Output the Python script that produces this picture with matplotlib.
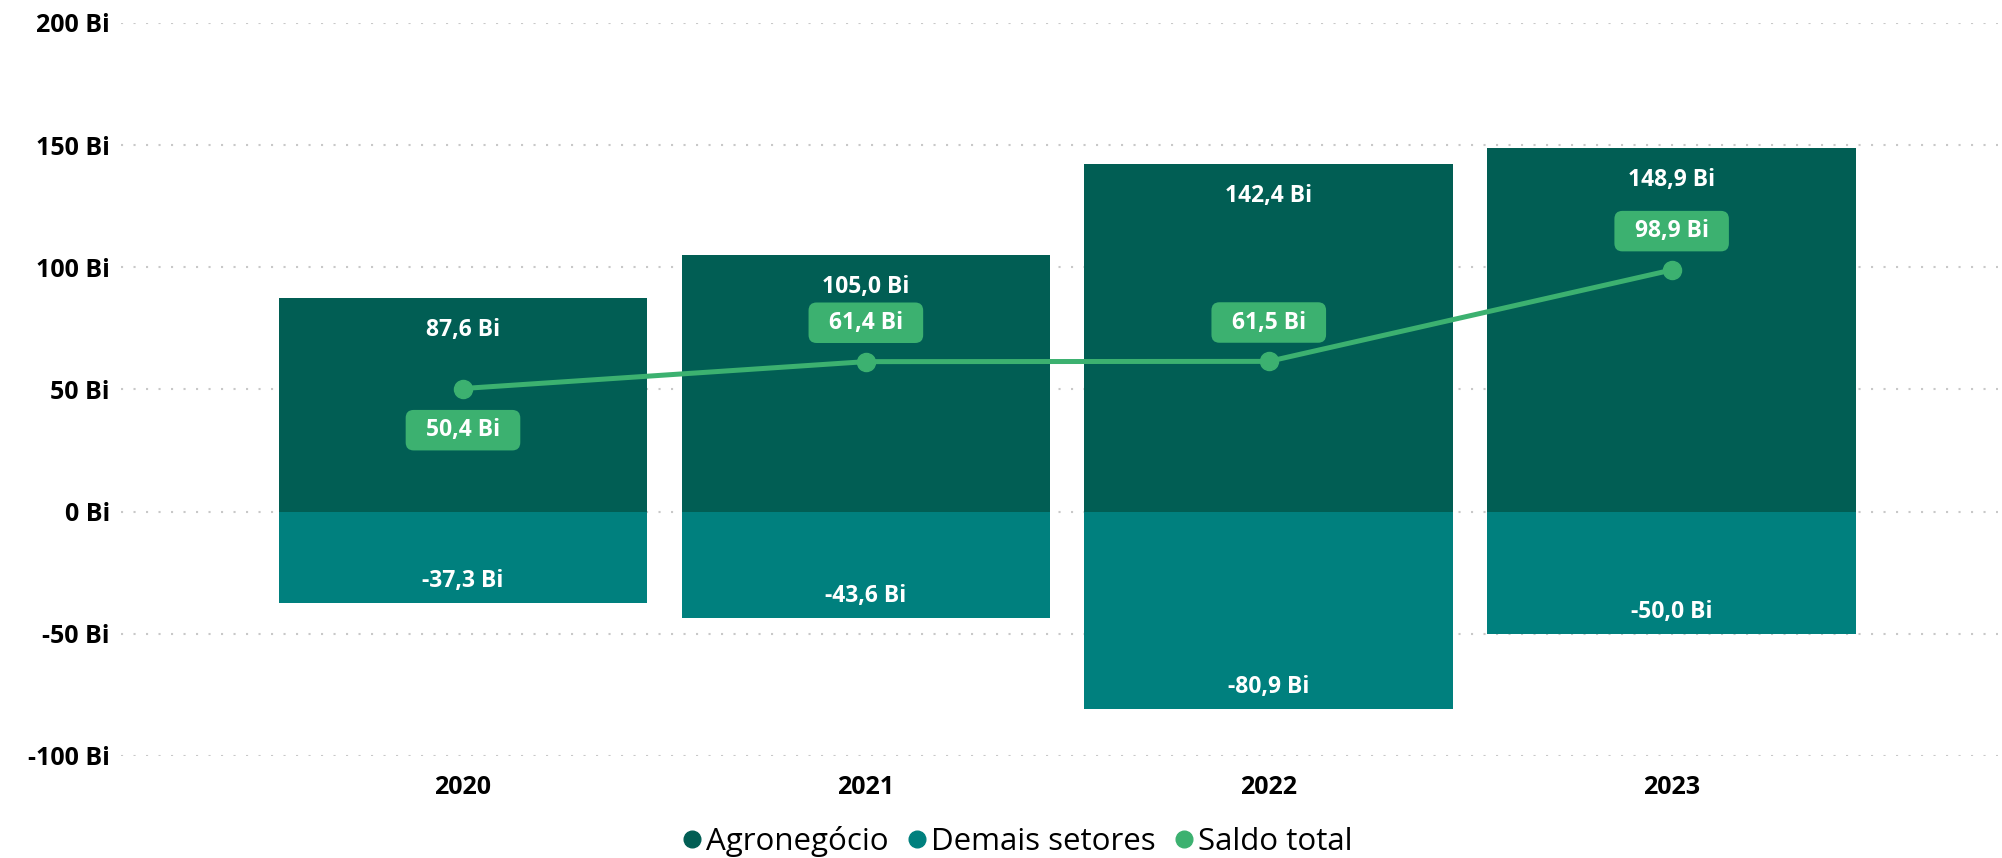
import numpy as np
import matplotlib
matplotlib.use("Agg")
from matplotlib import pyplot as plt
from matplotlib.lines import Line2D

# Data (in billions)
anos = ["2020", "2021", "2022", "2023"]
agronegocio = [87.6, 105.0, 142.4, 148.9]
demais_setores = [-37.3, -43.6, -80.9, -50.0]
saldo_total = [50.4, 61.4, 61.5, 98.9]
yticks = [-100, -50, 0, 50, 100, 150, 200]

c_agro = "#015E54"
c_demais = "#00807E"
c_saldo = "#3CB170"

plt.rcParams["font.family"] = ["Open Sans", "DejaVu Sans"]

def fmt(v):
    return f"{v:.1f}".replace(".", ",") + " Bi"

fig = plt.figure(figsize=(20.02, 8.58), dpi=100)
ax = fig.add_axes([0.0604, 0.1189, 0.9376, 0.8543])

x = np.arange(len(anos))
w = 0.915
ax.bar(x, agronegocio, width=w, color=c_agro, zorder=2)
ax.bar(x, demais_setores, width=w, color=c_demais, zorder=2)
ax.plot(x, saldo_total, color=c_saldo, lw=3.6, marker="o", markersize=13, zorder=4)

# Bar labels
for xi, v in zip(x, agronegocio):
    ax.annotate(fmt(v), (xi, v), xytext=(0, -23), textcoords="offset points",
                ha="center", va="center", color="white", fontsize=16.5,
                fontweight="bold", zorder=5)
for xi, v in zip(x, demais_setores):
    ax.annotate(fmt(v), (xi, v), xytext=(0, 16), textcoords="offset points",
                ha="center", va="center", color="white", fontsize=16.5,
                fontweight="bold", zorder=5)

# Saldo labels (first one below the point)
for i, (xi, v) in enumerate(zip(x, saldo_total)):
    dy = -30 if i == 0 else 28
    ax.annotate("  " + fmt(v) + "  ", (xi, v), xytext=(0, dy),
                textcoords="offset points", ha="center", va="center",
                color="white", fontsize=16.5, fontweight="bold", zorder=6,
                bbox=dict(boxstyle="round,pad=0.36,rounding_size=0.35",
                          fc=c_saldo, ec="none"))

ax.set_ylim(-100, 200)
ax.set_xlim(-0.849, 3.81)
ax.set_yticks(yticks)
ax.set_yticklabels([f"{t} Bi" for t in yticks], fontsize=18, fontweight="bold")
ax.set_xticks(x)
ax.set_xticklabels(anos, fontsize=18, fontweight="bold")
ax.tick_params(length=0, pad=8)
ax.tick_params(axis="x", pad=14)
ax.grid(axis="y", color="#C8C8C8", linestyle=(0, (1, 5)), linewidth=1.5, zorder=0)
ax.set_axisbelow(True)
for s in ax.spines.values():
    s.set_visible(False)

handles = [Line2D([], [], ls="none", marker="o", markersize=12, color=c)
           for c in (c_agro, c_demais, c_saldo)]
fig.legend(handles, ["Agronegócio", "Demais setores", "Saldo total"],
           loc="center", bbox_to_anchor=(0.507, 0.019), ncol=3, frameon=False,
           fontsize=22.5, handletextpad=0.0, columnspacing=0.45, handlelength=0.9)

fig.savefig("out.png", dpi=100)
